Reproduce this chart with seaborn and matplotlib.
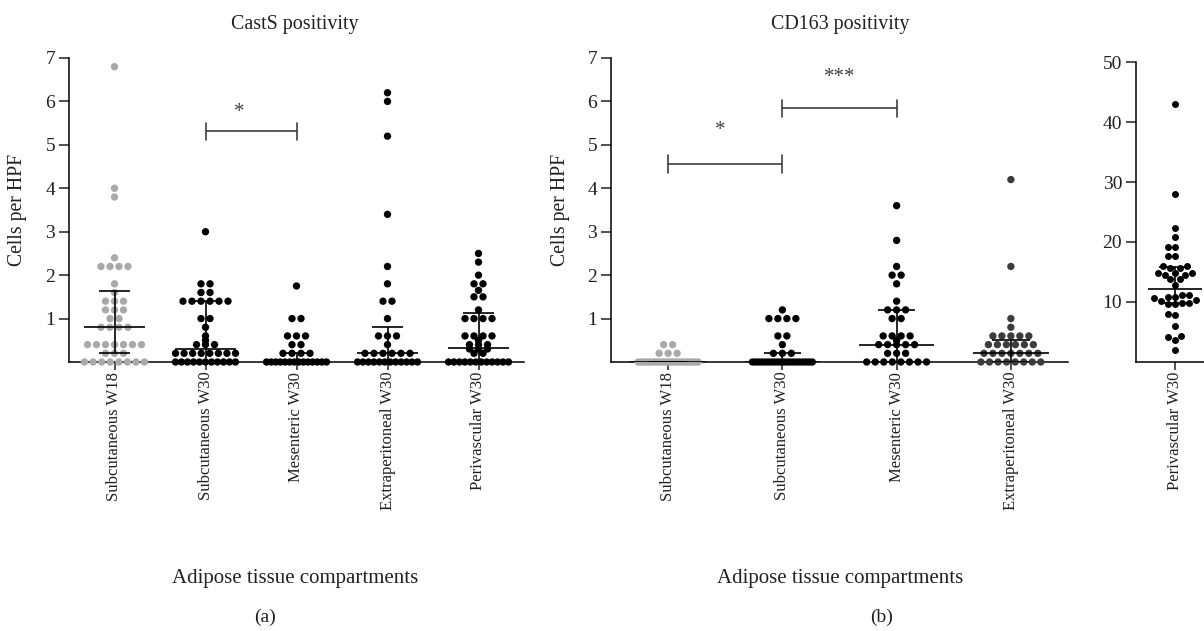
import numpy as np
import matplotlib
matplotlib.use("Agg")
import matplotlib.pyplot as plt
import seaborn as sns

# categories
casts_groups = ["Subcutaneous W18", "Subcutaneous W30", "Mesenteric W30",
                "Extraperitoneal W30", "Perivascular W30"]
cd163_groups = ["Subcutaneous W18", "Subcutaneous W30", "Mesenteric W30",
                "Extraperitoneal W30"]
peri_groups = ["Perivascular W30"]

# CastS positivity, cells per HPF
casts_sc_w18 = [6.8, 4.0, 3.8, 2.4, 2.2, 2.2, 2.2, 2.2, 1.8, 1.6, 1.4, 1.4, 1.4,
                1.2, 1.2, 1.2, 1.0, 1.0, 0.8, 0.8, 0.8, 0.8,
                0.4, 0.4, 0.4, 0.4, 0.4, 0.4, 0.4, 0.2, 0.2, 0.2,
                0.0, 0.0, 0.0, 0.0, 0.0, 0.0, 0.0, 0.0]
casts_sc_w30 = [3.0, 1.8, 1.8, 1.6, 1.6, 1.4, 1.4, 1.4, 1.4, 1.4, 1.4, 1.0, 1.0,
                0.8, 0.6, 0.5, 0.4, 0.4, 0.4,
                0.2, 0.2, 0.2, 0.2, 0.2, 0.2, 0.2, 0.2,
                0.0, 0.0, 0.0, 0.0, 0.0, 0.0, 0.0, 0.0, 0.0, 0.0, 0.0]
casts_mes_w30 = [1.75, 1.0, 1.0, 0.6, 0.6, 0.6, 0.4, 0.4, 0.2, 0.2, 0.2, 0.2,
                 0.0, 0.0, 0.0, 0.0, 0.0, 0.0, 0.0, 0.0, 0.0, 0.0, 0.0, 0.0,
                 0.0, 0.0]
casts_ext_w30 = [6.2, 6.0, 5.2, 3.4, 2.2, 1.8, 1.4, 1.4, 1.0, 0.6, 0.6, 0.6, 0.4,
                 0.2, 0.2, 0.2, 0.2, 0.2, 0.2,
                 0.0, 0.0, 0.0, 0.0, 0.0, 0.0, 0.0, 0.0, 0.0, 0.0, 0.0, 0.0]
casts_peri_w30 = [2.5, 2.3, 2.0, 1.8, 1.8, 1.65, 1.5, 1.5, 1.2,
                  1.0, 1.0, 1.0, 1.0, 0.6, 0.6, 0.6, 0.6, 0.5,
                  0.4, 0.4, 0.4, 0.3, 0.3, 0.3, 0.2, 0.2,
                  0.0, 0.0, 0.0, 0.0, 0.0, 0.0, 0.0, 0.0, 0.0, 0.0, 0.0, 0.0]
casts_median = [0.8, 0.3, 0.0, 0.2, 0.33]
casts_q1 = [0.2, 0.0, 0.0, 0.0, 0.0]
casts_q3 = [1.64, 1.4, 0.2, 0.8, 1.12]

# CD163 positivity
cd163_sc_w18 = [0.4, 0.4, 0.2, 0.2, 0.2,
                0.0, 0.0, 0.0, 0.0, 0.0, 0.0, 0.0, 0.0, 0.0, 0.0, 0.0, 0.0,
                0.0, 0.0, 0.0, 0.0, 0.0, 0.0, 0.0, 0.0, 0.0, 0.0, 0.0, 0.0]
cd163_sc_w30 = [1.2, 1.0, 1.0, 1.0, 1.0, 0.6, 0.6, 0.4, 0.2, 0.2, 0.2,
                0.0, 0.0, 0.0, 0.0, 0.0, 0.0, 0.0, 0.0, 0.0, 0.0, 0.0, 0.0,
                0.0, 0.0, 0.0, 0.0, 0.0, 0.0, 0.0, 0.0]
cd163_mes_w30 = [3.6, 2.8, 2.2, 2.0, 2.0, 1.8, 1.4, 1.2, 1.2, 1.2, 1.0, 1.0,
                 0.6, 0.6, 0.6, 0.6, 0.5, 0.4, 0.4, 0.4, 0.4, 0.4,
                 0.2, 0.2, 0.2, 0.0, 0.0, 0.0, 0.0, 0.0, 0.0, 0.0, 0.0]
cd163_ext_w30 = [4.2, 2.2, 1.0, 0.8, 0.6, 0.6, 0.6, 0.6, 0.6,
                 0.4, 0.4, 0.4, 0.4, 0.4, 0.4,
                 0.2, 0.2, 0.2, 0.2, 0.2, 0.2, 0.2,
                 0.0, 0.0, 0.0, 0.0, 0.0, 0.0, 0.0, 0.0]
cd163_median = [0.0, 0.0, 0.4, 0.2]
cd163_q1 = [0.0, 0.0, 0.0, 0.0]
cd163_q3 = [0.0, 0.2, 1.2, 0.5]

# CD163 perivascular (own scale)
peri_w30 = [43.0, 28.0, 22.4, 20.9, 19.2, 19.2, 17.7, 17.7, 16.0, 16.0, 15.6, 15.6,
            14.8, 14.8, 14.8, 14.5, 14.5, 13.8, 13.8, 12.9, 11.2, 11.2,
            10.9, 10.9, 10.6, 10.3, 10.2, 9.8, 9.8, 9.7, 9.6,
            8.0, 7.9, 6.0, 4.3, 4.2, 3.7, 2.0]
peri_median = [12.1]
peri_q1 = [9.8]
peri_q3 = [15.9]

sns.set_style("ticks")
plt.rcParams["font.family"] = ["Liberation Serif", "DejaVu Serif"]
TXT = "#231f20"
plt.rcParams["text.color"] = TXT
plt.rcParams["xtick.color"] = TXT
plt.rcParams["ytick.color"] = TXT

W, H = 1204, 631
fig = plt.figure(figsize=(W / 100, H / 100), dpi=100)


def px_rect(x0, y_top, x1, y_bot):
    return [x0 / W, 1 - y_bot / H, (x1 - x0) / W, (y_bot - y_top) / H]


def row_offsets(vals, spacing, max_w):
    # lay out equal values side by side, squeezed when the row gets too wide
    vals = np.asarray(vals)
    xs = np.zeros(len(vals))
    for v in np.unique(vals):
        idx = np.where(vals == v)[0]
        n = len(idx)
        if n > 1:
            step = min(spacing, max_w / (n - 1))
            xs[idx] = (np.arange(n) - (n - 1) / 2) * step
    return xs


def style_axis(ax):
    sns.despine(ax=ax)
    for s in ["left", "bottom"]:
        ax.spines[s].set_linewidth(1.1)
        ax.spines[s].set_color("black")
    ax.tick_params(axis="y", length=7, width=1.1, labelsize=14, pad=3)
    ax.tick_params(axis="x", length=6, width=1.1, labelsize=12, pad=1)


def draw_panel(ax, groups, series, colors, med, q1, q3, px_per_unit):
    sp = 9 / px_per_unit
    mw = 60 / px_per_unit
    for i, (vals, col) in enumerate(zip(series, colors)):
        xs = i + row_offsets(vals, sp, mw)
        sns.scatterplot(x=xs, y=vals, color=col, s=28, edgecolor="none",
                        ax=ax, legend=False, clip_on=False, zorder=3)
    idx = np.arange(len(groups))
    ax.hlines(med, idx - 0.33, idx + 0.33, color="black", lw=1.2, zorder=4)
    ax.hlines(q1, idx - 0.165, idx + 0.165, color="black", lw=1.2, zorder=4)
    ax.hlines(q3, idx - 0.165, idx + 0.165, color="black", lw=1.2, zorder=4)
    ax.vlines(idx, q1, q3, color="black", lw=1.2, zorder=4)
    ax.set_xlim(-0.5, len(groups) - 0.5)
    ax.set_ylim(0, 7)
    ax.set_yticks([1, 2, 3, 4, 5, 6, 7])
    ax.set_xticks(idx)
    ax.set_xticklabels(groups, rotation=90, va="top", ha="center")
    ax.set_xlabel("")
    ax.set_ylabel("")
    style_axis(ax)


def bracket(ax, x0, x1, y, label, lx, ly):
    ax.plot([x0, x1], [y, y], color="#404040", lw=1.2, clip_on=False)
    ax.plot([x0, x0], [y - 0.2, y + 0.2], color="#404040", lw=1.2, clip_on=False)
    ax.plot([x1, x1], [y - 0.2, y + 0.2], color="#404040", lw=1.2, clip_on=False)
    ax.text(lx, ly, label, ha="center", va="center", fontsize=15, color="#404040")


# panel (a)
ax_a = fig.add_axes(px_rect(69, 58, 524, 362))
draw_panel(ax_a, casts_groups,
           [casts_sc_w18, casts_sc_w30, casts_mes_w30, casts_ext_w30, casts_peri_w30],
           ["#a9a9a9", "black", "black", "black", "black"],
           casts_median, casts_q1, casts_q3, 91)
bracket(ax_a, 1, 2, 5.31, "*", 1.37, 5.75)

# panel (b)
ax_b = fig.add_axes(px_rect(611, 58, 1068, 362))
draw_panel(ax_b, cd163_groups,
           [cd163_sc_w18, cd163_sc_w30, cd163_mes_w30, cd163_ext_w30],
           ["#a9a9a9", "black", "black", "#3c3c3c"],
           cd163_median, cd163_q1, cd163_q3, 114.5)
bracket(ax_b, 0, 1, 4.56, "*", 0.46, 5.33)
bracket(ax_b, 1, 2, 5.84, "***", 1.5, 6.55)

# perivascular panel, separate scale
ax_c = fig.add_axes(px_rect(1136, 62, 1214, 362))
sns.swarmplot(y=peri_w30, ax=ax_c, color="black", size=5.0, zorder=3)
ax_c.hlines(peri_median, -0.34, 0.34, color="black", lw=1.2, zorder=4)
ax_c.hlines(peri_q1, -0.2, 0.2, color="black", lw=1.2, zorder=4)
ax_c.hlines(peri_q3, -0.2, 0.2, color="black", lw=1.2, zorder=4)
ax_c.vlines([0], peri_q1, peri_q3, color="black", lw=1.2, zorder=4)
ax_c.set_xlim(-0.5, 0.5)
ax_c.set_ylim(0, 50)
ax_c.set_yticks([10, 20, 30, 40, 50])
ax_c.set_xticks([0])
ax_c.set_xticklabels(peri_groups, rotation=90, va="top", ha="center")
ax_c.set_ylabel("")
style_axis(ax_c)

# titles and labels
fig.text(295 / W, 1 - 24 / H, "CastS positivity", ha="center", va="center", fontsize=14.4)
fig.text(840 / W, 1 - 24 / H, "CD163 positivity", ha="center", va="center", fontsize=14.4)
fig.text(18 / W, 1 - 210 / H, "Cells per HPF", rotation=90, ha="center", va="center", fontsize=14.2)
fig.text(560 / W, 1 - 210 / H, "Cells per HPF", rotation=90, ha="center", va="center", fontsize=14.2)
fig.text(295 / W, 1 - 578 / H, "Adipose tissue compartments", ha="center", va="center", fontsize=15)
fig.text(840 / W, 1 - 578 / H, "Adipose tissue compartments", ha="center", va="center", fontsize=15)
fig.text(265 / W, 1 - 617 / H, "(a)", ha="center", va="center", fontsize=14)
fig.text(882 / W, 1 - 617 / H, "(b)", ha="center", va="center", fontsize=14)

fig.savefig("out.png", dpi=100)
